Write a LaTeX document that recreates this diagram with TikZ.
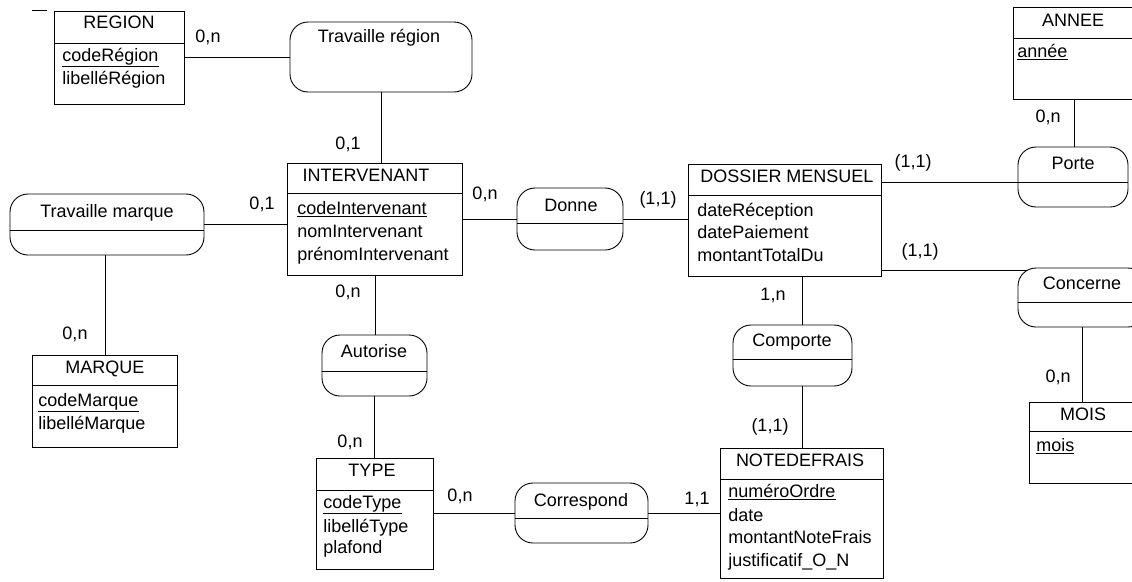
\documentclass[tikz,border=0pt]{standalone}
\usepackage{fontspec}
\setmainfont{Liberation Sans}
\begin{document}
\begin{tikzpicture}[x=1pt,y=-1pt,line width=0.9pt,
  ent/.style={draw,rectangle,anchor=north west,inner sep=0pt},
  rel/.style={draw,rectangle,rounded corners=18pt,inner sep=0pt},
  txt/.style={inner sep=0pt,text height=13pt,text depth=4pt,font=\fontsize{18}{22}\selectfont},
  att/.style={txt,anchor=west},
  card/.style={txt}]
\useasboundingbox (0,0) rectangle (1132,581);
\clip (0,0) rectangle (1132,581);
\draw[line width=1pt] (32,10) -- (47,10);
% ---------- entities ----------
\node[ent,minimum width=130pt,minimum height=93pt] (region) at (54,11) {};
\draw ([yshift=-32pt]region.north west) -- ([yshift=-32pt]region.north east);
\node[txt] (regiont) at (119,24) {REGION};
\node[att] (regiona1) at (62,57) {\underline{codeRégion}};
\node[att] (regiona2) at (62,80) {libelléRégion};

\node[ent,minimum width=175pt,minimum height=112pt] (inter) at (287,163) {};
\draw ([yshift=-30pt]inter.north west) -- ([yshift=-30pt]inter.north east);
\node[txt] (intert) at (366,177) {INTERVENANT};
\node[att] (intera1) at (297,210) {\underline{codeIntervenant}};
\node[att] (intera2) at (297,233) {nomIntervenant};
\node[att] (intera3) at (297,256) {prénomIntervenant};

\node[ent,minimum width=193pt,minimum height=112pt] (dossier) at (688,164) {};
\draw ([yshift=-31pt]dossier.north west) -- ([yshift=-31pt]dossier.north east);
\node[txt] (dossiert) at (787,178) {DOSSIER MENSUEL};
\node[att] (dossiera1) at (697,212) {dateRéception};
\node[att] (dossiera2) at (697,234) {datePaiement};
\node[att] (dossiera3) at (697,257) {montantTotalDu};

\node[ent,minimum width=122pt,minimum height=92pt] (annee) at (1013,7) {};
\draw ([yshift=-31pt]annee.north west) -- ([yshift=-31pt]annee.north east);
\node[txt] (anneet) at (1073,22) {ANNEE};
\node[att] (anneea1) at (1017,53) {\underline{année}};

\node[ent,minimum width=145pt,minimum height=92pt] (marque) at (32,355) {};
\draw ([yshift=-30pt]marque.north west) -- ([yshift=-30pt]marque.north east);
\node[txt] (marquet) at (105,369) {MARQUE};
\node[att] (marquea1) at (38,402) {\underline{codeMarque}};
\node[att] (marquea2) at (38,425) {libelléMarque};

\node[ent,minimum width=117pt,minimum height=111pt] (type) at (316,458) {};
\draw ([yshift=-32pt]type.north west) -- ([yshift=-32pt]type.north east);
\node[txt] (typet) at (372,472) {TYPE};
\node[att] (typea1) at (323,504) {\underline{codeType}};
\node[att] (typea2) at (323,528) {libelléType};
\node[att] (typea3) at (323,549) {plafond};

\node[ent,minimum width=163pt,minimum height=130pt] (nfrais) at (720,448) {};
\draw ([yshift=-31pt]nfrais.north west) -- ([yshift=-31pt]nfrais.north east);
\node[txt] (nfraist) at (800,462) {NOTEDEFRAIS};
\node[att] (nfraisa1) at (728,493) {\underline{numéroOrdre}};
\node[att] (nfraisa2) at (728,517) {date};
\node[att] (nfraisa3) at (728,539) {montantNoteFrais};
\node[att] (nfraisa4) at (728,562) {justificatif\_O\_N};

\node[ent,minimum width=120pt,minimum height=81pt] (mois) at (1029,402) {};
\draw ([yshift=-29pt]mois.north west) -- ([yshift=-29pt]mois.north east);
\node[txt] (moist) at (1083,416) {MOIS};
\node[att] (moisa1) at (1036,447) {\underline{mois}};
% ---------- relations ----------
\node[rel,minimum width=182pt,minimum height=70pt] (trreg) at (381,57) {};
\node[txt] (trregt) at (379,38) {Travaille région};

\node[rel,minimum width=194pt,minimum height=61pt] (trmarq) at (107,224.5) {};
\draw ([yshift=-5.5pt]trmarq.west) -- ([yshift=-5.5pt]trmarq.east);
\node[txt] (trmarqt) at (107,213) {Travaille marque};

\node[rel,minimum width=106pt,minimum height=62pt] (donne) at (570,219) {};
\draw ([yshift=-4pt]donne.west) -- ([yshift=-4pt]donne.east);
\node[txt] (donnet) at (571,207) {Donne};

\node[rel,minimum width=110pt,minimum height=60pt] (porte) at (1073,177) {};
\coordinate (porte-d) at ([yshift=-5pt]porte.west);
\draw (porte-d) -- ([yshift=-5pt]porte.east);
\node[txt] (portet) at (1073,165) {Porte};

\node[rel,minimum width=128pt,minimum height=59pt] (concerne) at (1082,297.5) {};
\draw ([yshift=-4.5pt]concerne.west) -- ([yshift=-4.5pt]concerne.east);
\node[txt] (concernet) at (1082,285) {Concerne};

\node[rel,minimum width=105pt,minimum height=61pt] (autorise) at (374.5,365.5) {};
\draw ([yshift=-5.5pt]autorise.west) -- ([yshift=-5.5pt]autorise.east);
\node[txt] (autoriset) at (374,353) {Autorise};

\node[rel,minimum width=119pt,minimum height=61pt] (comporte) at (792.5,355.5) {};
\draw ([yshift=-3.5pt]comporte.west) -- ([yshift=-3.5pt]comporte.east);
\node[txt] (comportet) at (792,342) {Comporte};

\node[rel,minimum width=133pt,minimum height=60pt] (correspond) at (581.5,513) {};
\draw ([yshift=-5pt]correspond.west) -- ([yshift=-5pt]correspond.east);
\node[txt] (correspondt) at (581,502) {Correspond};
% ---------- connectors ----------
\draw (region.east |- trreg.west) -- (trreg.west);
\draw (trreg.south) -- (trreg.south |- inter.north);
\draw (trmarq.east) -- (trmarq.east -| inter.west);
\draw (trmarq.south -| marque.north) -- (marque.north);
\draw (inter.east |- donne.west) -- (donne.west);
\draw (donne.east) -- (donne.east -| dossier.west);
\draw (dossier.east |- porte-d) -- (porte-d);
\draw (annee.south) -- (annee.south |- porte.north);
\coordinate (concerne-in) at ([xshift=9pt,yshift=-3pt]concerne.north west);
\draw (dossier.east |- concerne-in) -- (concerne-in);
\draw (concerne.south) -- (concerne.south |- mois.north);
\draw (dossier.south -| nfrais.north) -- (comporte.north -| nfrais.north);
\draw (comporte.south -| nfrais.north) -- (nfrais.north);
\draw (inter.south) -- (inter.south |- autorise.north);
\draw (autorise.south) -- (autorise.south |- type.north);
\draw (type.east |- correspond.west) -- (correspond.west);
\draw (correspond.east) -- (correspond.east -| nfrais.west);
% ---------- cardinalities ----------
\node[card] (c1) at (208,38) {0,n};
\node[card] (c2) at (348,145) {0,1};
\node[card] (c3) at (262,205) {0,1};
\node[card] (c4) at (75,335) {0,n};
\node[card] (c5) at (485,195) {0,n};
\node[card] (c6) at (658,200) {(1,1)};
\node[card] (c7) at (913,163) {(1,1)};
\node[card] (c8) at (1048,118) {0,n};
\node[card] (c9) at (920,252) {(1,1)};
\node[card] (c10) at (1058,378) {0,n};
\node[card] (c11) at (773,296) {1,n};
\node[card] (c12) at (770,427) {(1,1)};
\node[card] (c13) at (348,293) {0,n};
\node[card] (c14) at (350,443) {0,n};
\node[card] (c15) at (460,497) {0,n};
\node[card] (c16) at (697,500) {1,1};
\end{tikzpicture}
\end{document}
